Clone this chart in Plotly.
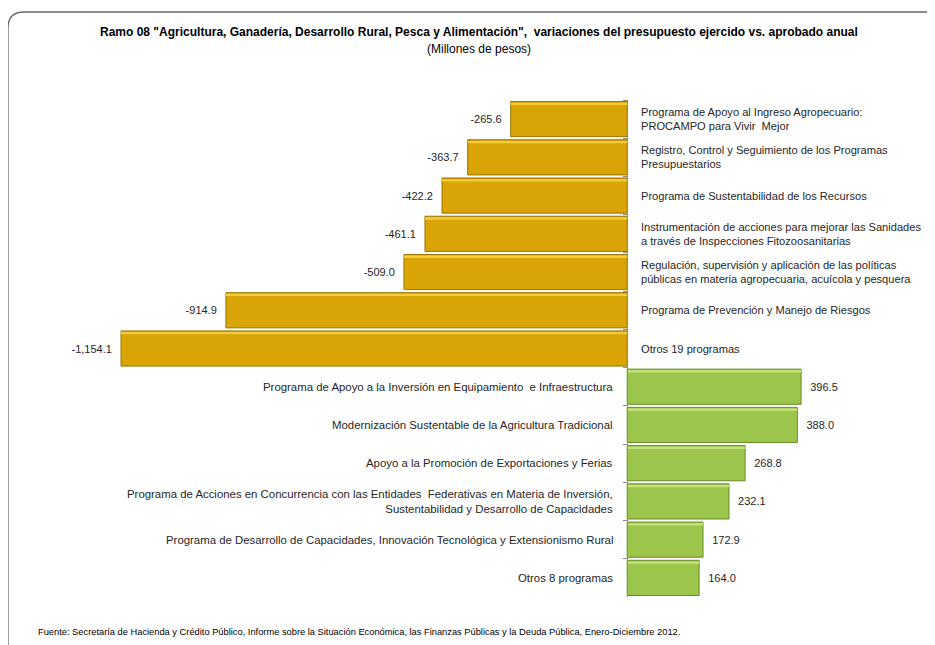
import plotly.graph_objects as go

categories = [
    "Programa de Apoyo al Ingreso Agropecuario:<br>PROCAMPO para Vivir  Mejor",
    "Registro, Control y Seguimiento de los Programas<br>Presupuestarios",
    "Programa de Sustentabilidad de los Recursos",
    "Instrumentación de acciones para mejorar las Sanidades<br>a través de Inspecciones Fitozoosanitarias",
    "Regulación, supervisión y aplicación de las políticas<br>públicas en materia agropecuaria, acuícola y pesquera",
    "Programa de Prevención y Manejo de Riesgos",
    "Otros 19 programas",
    "Programa de Apoyo a la Inversión en Equipamiento  e Infraestructura",
    "Modernización Sustentable de la Agricultura Tradicional",
    "Apoyo a la Promoción de Exportaciones y Ferias",
    "Programa de Acciones en Concurrencia con las Entidades  Federativas en Materia de Inversión,<br>Sustentabilidad y Desarrollo de Capacidades",
    "Programa de Desarrollo de Capacidades, Innovación Tecnológica y Extensionismo Rural",
    "Otros 8 programas",
]
values = [-265.6, -363.7, -422.2, -461.1, -509.0, -914.9, -1154.1,
          396.5, 388.0, 268.8, 232.1, 172.9, 164.0]

title = ('Ramo 08 "Agricultura, Ganadería, Desarrollo Rural, Pesca y Alimentación",  '
         'variaciones del presupuesto ejercido vs. aprobado anual')
subtitle = "(Millones de pesos)"
source = ("Fuente: Secretaría de Hacienda y Crédito Público, Informe sobre la Situación Económica, "
          "las Finanzas Públicas y la Deuda Pública, Enero-Diciembre 2012.")

FONT = "Liberation Sans"
neg_c, neg_l, neg_h = "#D9A406", "#9A7400", "#F2CC3A"
pos_c, pos_l, pos_h = "#9CC54B", "#6A8A2A", "#C4E37C"

NB = "\u00a0"
keys = [f"c{i}" for i in range(len(categories))]
colors = [neg_c if v < 0 else pos_c for v in values]
lines = [neg_l if v < 0 else pos_l for v in values]
highs = [neg_h if v < 0 else pos_h for v in values]
texts = [(f"{v:,.1f}" + NB * 2) if v < 0 else (NB * 2 + f"{v:,.1f}") for v in values]

XMIN, XMAX = -1202, 622

fig = go.Figure()
fig.add_trace(go.Bar(
    x=values, y=keys, orientation="h",
    marker=dict(color=colors, line=dict(color=lines, width=1)),
    text=texts, textposition="outside", cliponaxis=False,
    textfont=dict(family=FONT, size=11, color="#262626"),
    hoverinfo="skip",
))
# top highlight strip (bevel look)
fig.add_trace(go.Bar(
    x=values, y=keys, orientation="h", width=0.06, offset=-0.43,
    marker=dict(color=highs, line=dict(width=0)),
    hoverinfo="skip",
))

annotations = []
for k, c, v in zip(keys, categories, values):
    if v < 0:
        annotations.append(dict(x=0, y=k, xref="x", yref="y", text=c, showarrow=False,
                                xanchor="left", align="left", xshift=12,
                                font=dict(family=FONT, size=11.1, color="#262626")))
    else:
        annotations.append(dict(x=0, y=k, xref="x", yref="y", text=c, showarrow=False,
                                xanchor="right", align="right", xshift=-12,
                                font=dict(family=FONT, size=11.4, color="#262626")))

# figure is placed at (8,8) by page body margin
OFF = 8
W, H = 927, 637
L, R, T, B = 92, 35, 92, 48
pw, ph = W - L - R, H - T - B
def px(xs):
    return (xs - OFF - L) / pw
def py(ys):
    return (H - B - (ys - OFF)) / ph

annotations += [
    dict(x=px(479), y=py(32), xref="paper", yref="paper", text=f"<b>{title}</b>",
         showarrow=False, xanchor="center", yanchor="middle",
         font=dict(family=FONT, size=12, color="#000")),
    dict(x=px(479), y=py(49), xref="paper", yref="paper", text=subtitle,
         showarrow=False, xanchor="center", yanchor="middle",
         font=dict(family=FONT, size=12, color="#000")),
    dict(x=px(36), y=py(632), xref="paper", yref="paper", text=source,
         showarrow=False, xanchor="left", yanchor="middle",
         font=dict(family=FONT, size=9.3, color="#000")),
]

# rounded border
x0, y0, rr = 8, 12, 16
path = (f"M {px(x0)},{py(660)} L {px(x0)},{py(y0+rr)} "
        f"Q {px(x0)},{py(y0)} {px(x0+rr)},{py(y0)} L {px(960)},{py(y0)}")

fig.update_layout(
    width=W, height=H, autosize=False,
    margin=dict(l=L, r=R, t=T, b=B),
    paper_bgcolor="white", plot_bgcolor="white",
    bargap=0.08, barmode="overlay", showlegend=False,
    xaxis=dict(range=[XMIN, XMAX], showticklabels=False, showgrid=False,
               zeroline=False, ticks=""),
    yaxis=dict(autorange="reversed", showticklabels=False, showgrid=False, zeroline=False,
               showline=True, linecolor="#8C8C8C", linewidth=1,
               anchor="free", position=(0 - XMIN) / (XMAX - XMIN),
               tickson="boundaries", ticks="outside", ticklen=4, tickcolor="#8C8C8C"),
    annotations=annotations,
    shapes=[dict(type="path", path=path, xref="paper", yref="paper",
                 line=dict(color="#666666", width=1.3))],
)

fig.write_html("out.html")
